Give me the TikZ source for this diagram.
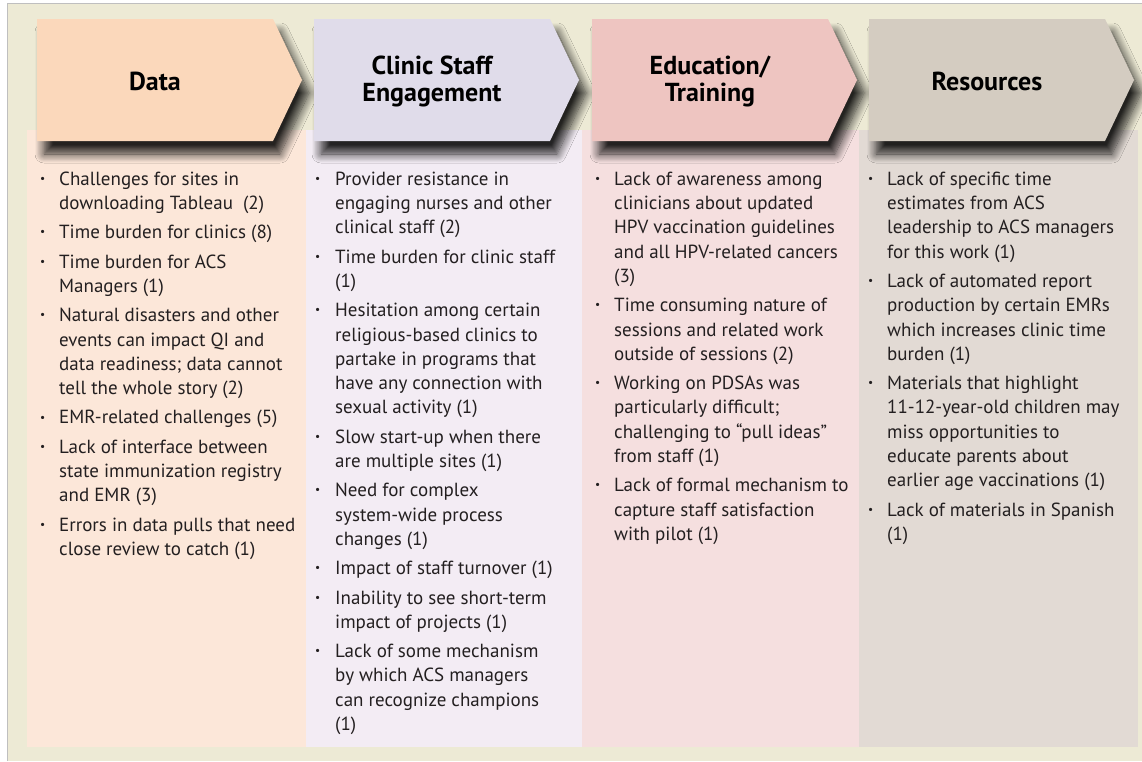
\documentclass[tikz,border=0pt]{standalone}
\usepackage{graphicx}
\usepackage{fontspec}
\setmainfont{PT Sans}
\usetikzlibrary{positioning}
\usetikzlibrary{shadows.blur}

\definecolor{cream}{HTML}{EDEAD5}
\definecolor{datahead}{HTML}{FBD8BB}
\definecolor{databody}{HTML}{FCE7D9}
\definecolor{staffhead}{HTML}{E0DCEA}
\definecolor{staffbody}{HTML}{F3ECF4}
\definecolor{eduhead}{HTML}{EEC5C1}
\definecolor{edubody}{HTML}{F5DFDF}
\definecolor{reshead}{HTML}{D4CCC1}
\definecolor{resbody}{HTML}{E2DAD4}
\definecolor{ink}{HTML}{231F20}

% small bullet for the item lists
\newcommand{\bul}{\raisebox{0.3ex}{\scalebox{0.6}{\textbullet}}}

\tikzset{
	head/.style = {align=center, inner sep=0pt, text=black,
		font=\fontsize{26}{27}\selectfont\bfseries},
	items/.style = {anchor=north west, inner sep=0pt, text=ink,
		font=\fontsize{19}{24.3}\selectfont},
	chevron/.style = {blur shadow={shadow xshift=7pt, shadow yshift=-13pt,
		shadow blur radius=9pt, shadow blur steps=12, shadow opacity=85}}
}

\begin{document}
\begin{tikzpicture}[x=1pt, y=-1pt]
		\useasboundingbox[fill=white] (0,0) rectangle (1142,761);
		\fill[cream] (7,3) rectangle (1142,761);
		\draw[black!25] (7,761) -- (7,3) -- (1142,3);

		% column bodies
		\fill[databody]  (27,130)  rectangle (306,747);
		\fill[staffbody] (306,130) rectangle (582,747);
		\fill[edubody]   (582,130) rectangle (859,747);
		\fill[resbody]   (859,130) rectangle (1138,747);

		% header arrows
		\foreach \x/\c in {37/datahead, 314/staffhead, 592/eduhead, 869/reshead}
			\path[fill=\c, chevron] (\x,19) -- ++(236,0) -- ++(29,61) -- ++(-29,61) -- ++(-236,0) -- cycle;

		\node[head] at (155,81) (data) {Data};
		\node[head] at (432,81) (staff) {Clinic Staff\\Engagement};
		\node[head] at (710,81) (edu) {Education/\\Training};
		\node[head] at (987,81) (res) {Resources};

		\node[items] at (40,168) (datalist) {%
			\begin{tabular}{@{}p{19pt}@{}l@{}}
			\bul & Challenges for sites in\\
			     & downloading Tableau\ \ (2)\\[5pt]
			\bul & Time burden for clinics (8)\\[5pt]
			\bul & Time burden for ACS\\
			     & Managers (1)\\[5pt]
			\bul & Natural disasters and other\\
			     & events can impact QI and\\
			     & data readiness; data cannot\\
			     & tell the whole story (2)\\[5pt]
			\bul & EMR-related challenges (5)\\[5pt]
			\bul & Lack of interface between\\
			     & state immunization registry\\
			     & and EMR (3)\\[5pt]
			\bul & Errors in data pulls that need\\
			     & close review to catch (1)
			\end{tabular}};

		\node[items] at (315,168) (stafflist) {%
			\begin{tabular}{@{}p{20pt}@{}l@{}}
			\bul & Provider resistance in\\
			     & engaging nurses and other\\
			     & clinical staff (2)\\[5pt]
			\bul & Time burden for clinic staff\\
			     & (1)\\[5pt]
			\bul & Hesitation among certain\\
			     & religious-based clinics to\\
			     & partake in programs that\\
			     & have any connection with\\
			     & sexual activity (1)\\[5pt]
			\bul & Slow start-up when there\\
			     & are multiple sites (1)\\[5pt]
			\bul & Need for complex\\
			     & system-wide process\\
			     & changes (1)\\[5pt]
			\bul & Impact of staff turnover (1)\\[5pt]
			\bul & Inability to see short-term\\
			     & impact of projects (1)\\[5pt]
			\bul & Lack of some mechanism\\
			     & by which ACS managers\\
			     & can recognize champions\\
			     & (1)
			\end{tabular}};

		\node[items] at (595,168) (edulist) {%
			\begin{tabular}{@{}p{19pt}@{}l@{}}
			\bul & Lack of awareness among\\
			     & clinicians about updated\\
			     & HPV vaccination guidelines\\
			     & and all HPV-related cancers\\
			     & (3)\\[5pt]
			\bul & Time consuming nature of\\
			     & sessions and related work\\
			     & outside of sessions (2)\\[5pt]
			\bul & Working on PDSAs was\\
			     & particularly difficult;\\
			     & challenging to “pull ideas”\\
			     & from staff (1)\\[5pt]
			\bul & Lack of formal mechanism to\\
			     & capture staff satisfaction\\
			     & with pilot (1)
			\end{tabular}};

		\node[items] at (868,168) (reslist) {%
			\begin{tabular}{@{}p{19pt}@{}l@{}}
			\bul & Lack of specific time\\
			     & estimates from ACS\\
			     & leadership to ACS managers\\
			     & for this work (1)\\[5pt]
			\bul & Lack of automated report\\
			     & production by certain EMRs\\
			     & which increases clinic time\\
			     & burden (1)\\[5pt]
			\bul & Materials that highlight\\
			     & 11-12-year-old children may\\
			     & miss opportunities to\\
			     & educate parents about\\
			     & earlier age vaccinations (1)\\[5pt]
			\bul & Lack of materials in Spanish\\
			     & (1)
			\end{tabular}};
	\end{tikzpicture}
\end{document}
